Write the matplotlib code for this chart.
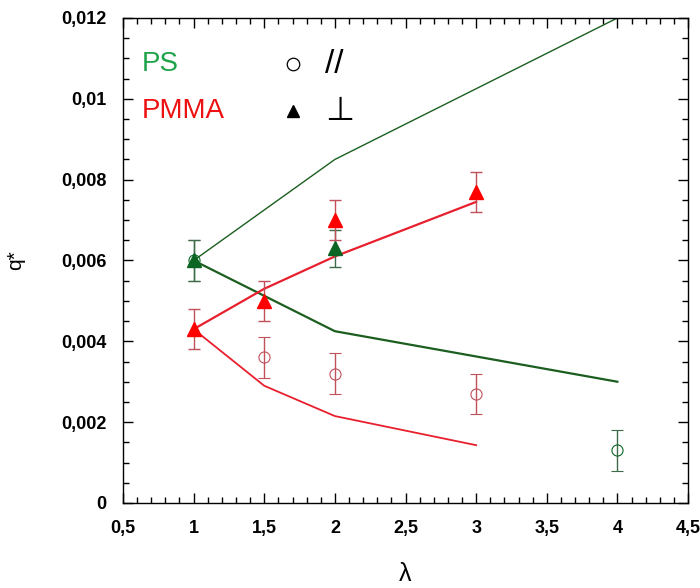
import matplotlib
matplotlib.use("Agg")
import matplotlib.pyplot as plt
from matplotlib.ticker import MultipleLocator, FuncFormatter

# Model curves
ps_perp_model_x = [1, 2, 4]
ps_perp_model_y = [0.0060, 0.0085, 0.0120]
ps_par_model_x = [1, 2, 4]
ps_par_model_y = [0.0060, 0.00425, 0.0030]
pmma_perp_model_x = [1, 1.5, 2, 3]
pmma_perp_model_y = [0.0043, 0.0053, 0.0061, 0.00745]
pmma_par_model_x = [1, 1.5, 2, 3]
pmma_par_model_y = [0.0043, 0.0029, 0.00215, 0.00143]

# Experimental data
ps_par_x = [1, 4]
ps_par_y = [0.0060, 0.0013]
ps_par_err = [0.0005, 0.0005]
ps_perp_x = [1, 2]
ps_perp_y = [0.0060, 0.0063]
ps_perp_err = [0.0005, 0.00045]
pmma_par_x = [1.5, 2, 3]
pmma_par_y = [0.0036, 0.0032, 0.0027]
pmma_par_err = [0.0005, 0.0005, 0.0005]
pmma_perp_x = [1, 1.5, 2, 3]
pmma_perp_y = [0.0043, 0.0050, 0.0070, 0.0077]
pmma_perp_err = [0.0005, 0.0005, 0.0005, 0.0005]

green_line = "#1b5e20"
green_pt = "#0b6623"
green_err = "#3d6b4a"
red_line = "#e8202e"
red_pt = "#ff0000"
red_err = "#c0505a"

plt.rcParams['font.family'] = ['Liberation Sans', 'DejaVu Sans']

fig = plt.figure(figsize=(7, 5.88), dpi=100)
ax = fig.add_axes([0.1757, 0.1446, 0.9829 - 0.1757, 0.9694 - 0.1446])

ax.plot(ps_perp_model_x, ps_perp_model_y, color=green_line, lw=1.0)
ax.plot(ps_par_model_x, ps_par_model_y, color=green_line, lw=1.6)
ax.plot(pmma_perp_model_x, pmma_perp_model_y, color=red_line, lw=1.6)
ax.plot(pmma_par_model_x, pmma_par_model_y, color=red_line, lw=1.3)

ax.errorbar(ps_par_x, ps_par_y, yerr=ps_par_err, fmt='o', mfc='none', mec=green_pt,
            ms=8, mew=0.8, ecolor=green_err, elinewidth=1.0, capsize=4, capthick=1.0, zorder=3)
ax.errorbar(pmma_par_x, pmma_par_y, yerr=pmma_par_err, fmt='o', mfc='none', mec=red_err,
            ms=8, mew=0.8, ecolor=red_err, elinewidth=1.0, capsize=4, capthick=1.0, zorder=3)
ax.errorbar(ps_perp_x, ps_perp_y, yerr=ps_perp_err, fmt='^', color=green_pt, mec=green_pt,
            ms=10, ecolor=green_err, elinewidth=1.0, capsize=4, capthick=1.0, zorder=4)
ax.errorbar(pmma_perp_x, pmma_perp_y, yerr=pmma_perp_err, fmt='^', color=red_pt, mec=red_pt,
            ms=10, ecolor=red_err, elinewidth=1.0, capsize=4, capthick=1.0, zorder=5)

ax.set_xlim(0.5, 4.5)
ax.set_ylim(0, 0.012)
ax.xaxis.set_major_locator(MultipleLocator(0.5))
ax.xaxis.set_minor_locator(MultipleLocator(0.1))
ax.yaxis.set_major_locator(MultipleLocator(0.002))
ax.yaxis.set_minor_locator(MultipleLocator(0.0005))

def fmt(v, pos):
    s = f"{v:.3f}".rstrip('0').rstrip('.')
    if s in ("-0", ""):
        s = "0"
    return s.replace('.', ',')

ax.xaxis.set_major_formatter(FuncFormatter(fmt))
ax.yaxis.set_major_formatter(FuncFormatter(fmt))
ax.tick_params(which='both', direction='in', top=True, right=True, width=1.0)
ax.tick_params(which='major', length=7, pad=12)
ax.tick_params(which='minor', length=4)
for lab in ax.get_xticklabels() + ax.get_yticklabels():
    lab.set_fontweight('bold')
    lab.set_fontsize(13)
for sp in ax.spines.values():
    sp.set_linewidth(1.0)

ax.set_xlabel("λ", fontsize=18, labelpad=18)
ax.set_ylabel("q*", fontsize=15, labelpad=26)

# Legend as text
ax.text(0.63, 0.01085, "PS", color="#1fa34a", fontsize=20, va='center', ha='left')
ax.text(0.63, 0.00970, "PMMA", color="#ee1111", fontsize=20, va='center', ha='left')
ax.plot([1.7], [0.01085], marker='o', mfc='none', mec='black', ms=9, mew=0.9, ls='none')
ax.plot([1.7], [0.00970], marker='^', color='black', ms=9, ls='none')
ax.text(1.93, 0.01085, "//", color="black", fontsize=24, va='center', ha='left')
ax.text(1.93, 0.00970, "⊥", color="black", fontsize=24, va='center', ha='left', family=['DejaVu Sans'])

fig.savefig("out.png", dpi=100)
